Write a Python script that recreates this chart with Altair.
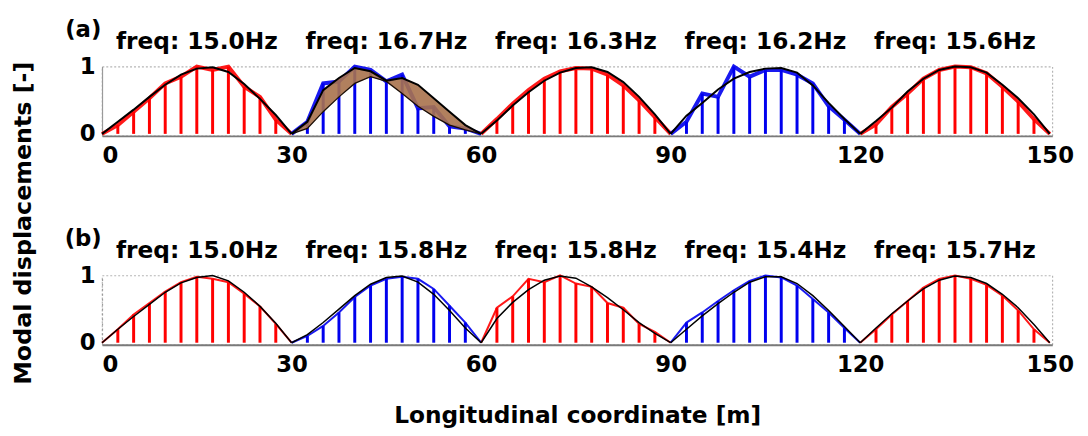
import altair as alt
import pandas as pd

FONT = "DejaVu Sans"
RED = "#ff0000"
BLUE = "#0000ee"

SPAN_STARTS = [0, 30, 60, 90, 120]
OFFSETS = [0, 2.5, 5, 7.5, 10, 12.5, 15, 17.5, 20, 22.5, 25, 27.5, 30]
STEM_OFFSETS = OFFSETS[1:-1]
X_TICKS = [0, 30, 60, 90, 120, 150]
Y_TICKS = [0, 1]

FREQ_A = ["15.0", "16.7", "16.3", "16.2", "15.6"]
FREQ_B = ["15.0", "15.8", "15.8", "15.4", "15.7"]
COLORS = [RED, BLUE, RED, BLUE, RED]

# panel (a) span 2: envelope of the modal shapes (brown band)
BAND_HI = [0, 0.18, 0.65, 0.83, 0.98, 0.93, 0.79, 0.83, 0.73, 0.53, 0.33, 0.13, 0]
BAND_LO = [0, 0.08, 0.33, 0.55, 0.75, 0.85, 0.78, 0.60, 0.41, 0.26, 0.13, 0.06, 0]

CURVE_A = [
    [0, 0.18, 0.36, 0.55, 0.73, 0.88, 0.97, 0.99, 0.92, 0.74, 0.52, 0.28, 0],
    BAND_HI,
    [0, 0.20, 0.42, 0.62, 0.79, 0.91, 0.98, 0.99, 0.92, 0.77, 0.55, 0.29, 0],
    [0, 0.27, 0.46, 0.66, 0.82, 0.92, 0.97, 0.98, 0.91, 0.72, 0.46, 0.22, 0],
    [0, 0.19, 0.39, 0.63, 0.82, 0.95, 1.00, 0.99, 0.91, 0.73, 0.53, 0.29, 0],
]
STEMS_A = [
    [0.13, 0.33, 0.53, 0.75, 0.85, 1.00, 0.95, 1.00, 0.70, 0.55, 0.21],
    [0.18, 0.75, 0.78, 1.00, 0.95, 0.78, 0.88, 0.38, 0.40, 0.11, 0.08],
    [0.22, 0.45, 0.65, 0.82, 0.93, 0.98, 0.97, 0.88, 0.72, 0.50, 0.25],
    [0.18, 0.60, 0.55, 1.00, 0.85, 0.95, 0.95, 0.88, 0.75, 0.41, 0.21],
    [0.14, 0.40, 0.60, 0.82, 0.95, 1.00, 0.99, 0.90, 0.70, 0.48, 0.22],
]
CURVE_B = [
    [0, 0.20, 0.39, 0.57, 0.75, 0.89, 0.97, 1.00, 0.92, 0.75, 0.54, 0.29, 0],
    [0, 0.12, 0.30, 0.50, 0.70, 0.87, 0.97, 0.99, 0.90, 0.72, 0.48, 0.22, 0],
    [0, 0.36, 0.60, 0.79, 0.93, 0.99, 0.96, 0.83, 0.67, 0.49, 0.30, 0.14, 0],
    [0, 0.20, 0.40, 0.58, 0.75, 0.90, 0.98, 0.98, 0.88, 0.70, 0.48, 0.24, 0],
    [0, 0.22, 0.43, 0.62, 0.80, 0.93, 0.99, 0.97, 0.88, 0.72, 0.52, 0.27, 0],
]
STEMS_B = [
    [0.20, 0.42, 0.59, 0.76, 0.90, 0.98, 0.95, 0.90, 0.73, 0.54, 0.28],
    [0.10, 0.25, 0.45, 0.68, 0.85, 0.95, 0.98, 0.95, 0.80, 0.55, 0.30],
    [0.52, 0.69, 0.95, 0.90, 1.00, 0.88, 0.83, 0.59, 0.52, 0.28, 0.16],
    [0.30, 0.45, 0.62, 0.78, 0.92, 1.00, 0.97, 0.85, 0.65, 0.45, 0.22],
    [0.20, 0.42, 0.62, 0.82, 0.95, 1.00, 0.95, 0.86, 0.70, 0.48, 0.20],
]

W, H = 960, 70
XDOM = [0, 150.4]
YDOM = [-0.03, 1.0]


def frames(curves, stems, freqs):
    crow, srow, frow, trow = [], [], [], []
    for i, s in enumerate(SPAN_STARTS):
        for o, v in zip(OFFSETS, curves[i]):
            crow.append({"span": i, "x": s + o, "y": v})
        frow.append({"span": i, "x": s, "y": 0, "c": COLORS[i]})
        for o, v in zip(STEM_OFFSETS, stems[i]):
            srow.append({"span": i, "x": s + o, "y": v, "c": COLORS[i]})
            frow.append({"span": i, "x": s + o, "y": v, "c": COLORS[i]})
        frow.append({"span": i, "x": s + 30, "y": 0, "c": COLORS[i]})
        trow.append({"x": s + 15, "t": f"freq: {freqs[i]}Hz"})
    return (pd.DataFrame(crow), pd.DataFrame(srow),
            pd.DataFrame(frow), pd.DataFrame(trow))


def panel(curves, stems, freqs, tag, fuzz_w, curve_w, xtitle, ydash, band=False):
    cdf, sdf, fdf, tdf = frames(curves, stems, freqs)
    xaxis = alt.Axis(values=X_TICKS, ticks=False, grid=False, labelPadding=9,
                     labelFont=FONT, labelFontSize=23, labelFontWeight="bold",
                     labelColor="black", domainColor="#7a7a7a", domainWidth=2,
                     title=xtitle, titleFont=FONT, titleFontSize=23.5,
                     titleFontWeight="bold", titleColor="black", titlePadding=28)
    yaxis = alt.Axis(values=Y_TICKS, format="d", ticks=False, grid=False,
                     labelPadding=7,
                     labelFont=FONT, labelFontSize=23, labelFontWeight="bold",
                     labelColor="black", domainColor="#9a9a9a", domainWidth=1.2,
                     domainDash=ydash, title=None)

    def X(field="x"):
        return alt.X(f"{field}:Q", scale=alt.Scale(domain=XDOM, nice=False, zero=False),
                     axis=xaxis)

    def Y(field="y"):
        return alt.Y(f"{field}:Q", scale=alt.Scale(domain=YDOM, nice=False, zero=False),
                     axis=yaxis)

    stems_l = alt.Chart(sdf).mark_rule(strokeWidth=3).encode(
        x=X(), y=Y(), y2=alt.datum(0), color=alt.Color("c:N", scale=None))
    fuzz = alt.Chart(fdf).mark_line(strokeWidth=fuzz_w, opacity=0.9).encode(
        x=X(), y=Y(), detail="span:N", color=alt.Color("c:N", scale=None))
    layers = [stems_l, fuzz]
    if band:
        bdf = pd.DataFrame({"x": [30 + o for o in OFFSETS], "lo": BAND_LO, "hi": BAND_HI})
        layers.append(alt.Chart(bdf).mark_area(color="#a8724c", opacity=0.9).encode(
            x=X(), y=Y("lo"), y2="hi:Q"))
        layers.append(alt.Chart(bdf).mark_line(color="#1a0d05", strokeWidth=1.3).encode(
            x=X(), y=Y("lo")))
    curve = alt.Chart(cdf).mark_line(color="black", strokeWidth=curve_w).encode(
        x=X(), y=Y(), detail="span:N")
    layers.append(curve)
    texts = alt.Chart(tdf).mark_text(font=FONT, fontSize=23.5, fontWeight="bold",
                                     color="black", baseline="middle").encode(
        x=X(), y=alt.value(-25), text="t:N")
    tagl = alt.Chart(pd.DataFrame({"t": [tag]})).mark_text(
        font=FONT, fontSize=23, fontWeight="bold", color="black",
        baseline="middle").encode(x=alt.value(-19), y=alt.value(-37), text="t:N")
    layers += [texts, tagl]
    return alt.layer(*layers).properties(width=W, height=H)


pa = panel(CURVE_A, STEMS_A, FREQ_A, "(a)", 4, 2, None, [1, 0], band=True)
pb = panel(CURVE_B, STEMS_B, FREQ_B, "(b)", 2, 1.5, "Longitudinal coordinate [m]", [2, 3])

chart = alt.vconcat(pa, pb, spacing=59).properties(
    title=alt.TitleParams("Modal displacements [-]", orient="left", anchor="middle",
                          font=FONT, fontSize=24, fontWeight="bold", color="black",
                          offset=28),
    padding={"left": 4, "top": 8, "right": 5, "bottom": 5},
).configure_view(stroke="#b5b5b5", strokeDash=[2, 2], strokeWidth=1.2)

chart.save("out.html", embed_options={"renderer": "svg", "actions": False})
